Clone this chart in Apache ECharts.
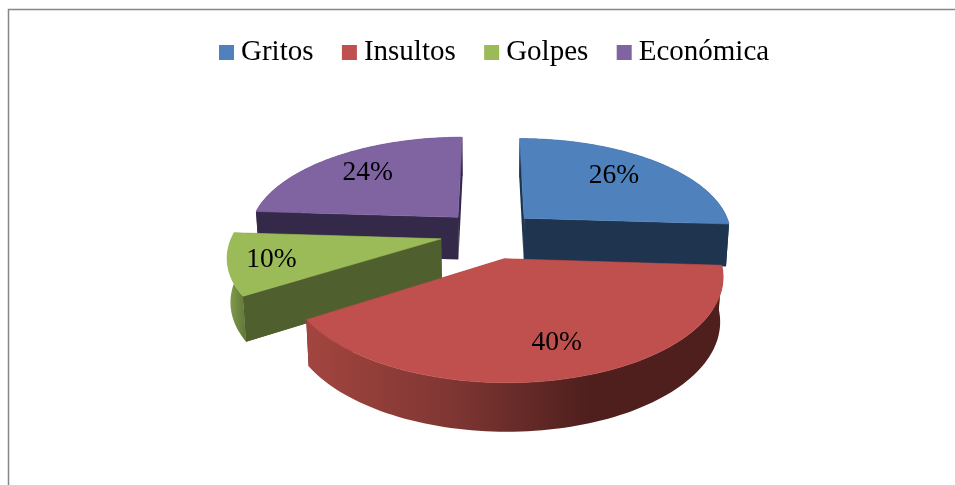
<!DOCTYPE html>
<html><head><meta charset="utf-8">
<style>html,body{margin:0;padding:0;background:#fff}#c{width:955px;height:485px}</style>
<script src="https://cdn.jsdelivr.net/npm/echarts@6/dist/echarts.min.js"></script>
</head><body><div id="c"></div>
<script>
var categories = ['Gritos', 'Insultos', 'Golpes', 'Económica'];
var values = [26, 40, 10, 24];
var topColors = ['#4f81bd', '#c0504d', '#9bbb59', '#8064a2'];
var faceColors = ['#1f344f', '#4e1f1d', '#4f5f2e', '#35294a'];
var labelRadius = [0.72, 0.73, 0.80, 0.73];
var labelSpin = [-3.8, -2.2, 0.7, 1.0];
var explodes = [48, 55, 50, 48];
var radii = [208, 207, 208, 210];
var drawOrder = [3, 0, 2, 1];

// view model of the tilted, exploded pie
var view = { cx: 490, cy: 233, depth: 43, tilt: 0.463, persp: 0.00075, converge: 0.0003, labelDrop: 2 };
function proj(X, Y, Z) {
  var s = 1 / (1 - view.persp * Y);
  return [view.cx + X * s / (1 + view.converge * Z), view.cy + Y * view.tilt * s + Z * Math.pow(s, 0.6)];
}
var total = values.reduce(function (a, b) { return a + b; }, 0);
function startAngle(i) {
  var t = 0;
  for (var j = 0; j < i; j++) t += values[j];
  return t / total * 2 * Math.PI;
}
function renderSlice(i, api) {
  var a0 = startAngle(i);
  var a1 = a0 + api.value(0) / total * 2 * Math.PI;
  var mid = (a0 + a1) / 2;
  var ox = explodes[i] * Math.sin(mid), oy = -explodes[i] * Math.cos(mid);
  var R = radii[i];
  function pt(a, r, z) { return proj(ox + r * Math.sin(a), oy - r * Math.cos(a), z); }
  var arcTop = [], arcBot = [], n = 90, k, a;
  for (k = 0; k <= n; k++) {
    a = a0 + (a1 - a0) * k / n;
    arcTop.push(pt(a, R, 0));
    arcBot.push(pt(a, R, view.depth));
  }
  var wallFill = new echarts.graphic.LinearGradient(0, 0, 1, 0,
    i === 1 ? [
      { offset: 0, color: '#a3453f' }, { offset: 0.35, color: '#7f3633' },
      { offset: 0.68, color: '#4e1f1d' }, { offset: 1, color: '#4e1f1d' }
    ] : i === 2 ? [
      { offset: 0, color: '#86a24c' }, { offset: 1, color: '#5f7539' }
    ] : [
      { offset: 0, color: faceColors[i] }, { offset: 1, color: faceColors[i] }
    ]);
  var wall = arcTop.concat(arcBot.slice().reverse());
  var apexT = pt(0, 0, 0), apexB = pt(0, 0, view.depth);
  function face(arcIdx) {
    return { type: 'polygon', shape: { points: [apexT, arcTop[arcIdx], arcBot[arcIdx], apexB] }, style: { fill: faceColors[i] } };
  }
  var tl = pt(mid + labelSpin[i] * Math.PI / 180, R * labelRadius[i], 0);
  var children = [face(0), face(n), { type: 'polygon', shape: { points: wall }, style: { fill: wallFill } }];
  if (i === 2) children.push(face(0));
  children.push(
    { type: 'polygon', shape: { points: [apexT].concat(arcTop) },
      style: { fill: topColors[i], stroke: topColors[i], lineWidth: 0.6 } },
    { type: 'text', z2: 10, style: {
        x: tl[0], y: tl[1] + view.labelDrop, text: api.value(0) + '%',
        fill: '#000', align: 'center', verticalAlign: 'middle',
        font: '27.5px "Liberation Serif"'
    } }
  );
  return { type: 'group', children: children };
}
var series = drawOrder.map(function (i, order) {
  return {
    type: 'custom', name: categories[i], coordinateSystem: 'none',
    silent: true, z: 2 + order,
    itemStyle: { color: topColors[i] },
    data: [[values[i]]],
    renderItem: function (params, api) { return renderSlice(i, api); }
  };
});
var chart = echarts.init(document.getElementById('c'), null, { renderer: 'canvas' });
chart.setOption({
  animation: false,
  backgroundColor: '#fff',
  legend: {
    data: categories, left: 214, top: 33, padding: 5, itemGap: 28.4,
    itemWidth: 15, itemHeight: 15, icon: 'rect', selectedMode: false,
    textStyle: { fontFamily: 'Liberation Serif', fontSize: 29, color: '#000', padding: [0, 0, 0, 2] }
  },
  graphic: [{ type: 'rect', silent: true, z: 0,
    shape: { x: 8.5, y: 9.5, width: 1500, height: 1500 },
    style: { fill: 'none', stroke: '#868686', lineWidth: 1.5 } }],
  series: series
});
</script></body></html>
